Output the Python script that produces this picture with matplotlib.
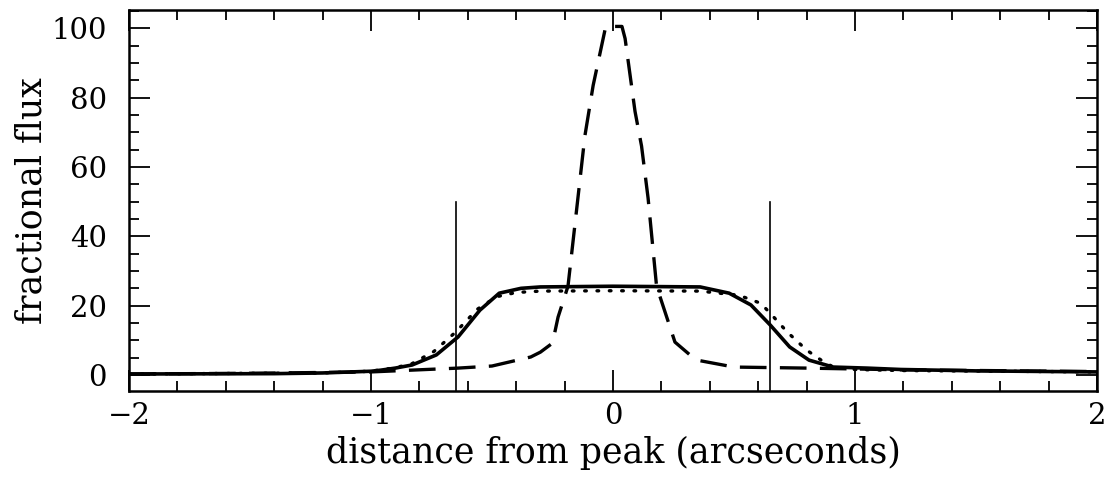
import matplotlib.pyplot as plt
from matplotlib.ticker import MultipleLocator

# solid profile
x_solid = [-2.0, -1.4, -1.2, -1.0, -0.96, -0.9, -0.83, -0.73, -0.64, -0.55, -0.47, -0.38, -0.3,
           0.0, 0.36, 0.48, 0.57, 0.65, 0.73, 0.81, 0.91, 1.05, 1.19, 1.5, 2.0]
y_solid = [0.3, 0.4, 0.6, 1.1, 1.4, 2.0, 2.9, 5.8, 11.0, 18.7, 23.6, 25.0, 25.4,
           25.6, 25.4, 23.6, 20.2, 14.4, 8.1, 4.3, 2.3, 2.0, 1.6, 1.2, 0.9]

# dotted profile
x_dot = [-2.0, -1.2, -1.0, -0.9, -0.83, -0.74, -0.65, -0.56, -0.48, -0.4, -0.3,
         0.0, 0.36, 0.52, 0.61, 0.65, 0.72, 0.8, 0.86, 0.91, 1.0, 1.2, 2.0]
y_dot = [0.3, 0.6, 1.1, 2.1, 3.3, 6.8, 12.4, 19.0, 22.6, 23.8, 24.2,
         24.3, 24.2, 23.0, 20.7, 17.8, 12.4, 7.2, 4.3, 2.3, 1.6, 1.3, 0.9]

# dashed profile
x_dash = [-2.0, -1.5, -1.0, -0.64, -0.5, -0.34, -0.3, -0.25, -0.227, -0.186, -0.145, -0.116, -0.082,
          -0.03, 0.037, 0.05, 0.091, 0.118, 0.145, 0.18, 0.256, 0.318, 0.347, 0.5, 0.8, 1.2, 2.0]
y_dash = [0.3, 0.5, 0.9, 2.0, 2.6, 5.2, 6.6, 9.2, 16.7, 25.6, 51.0, 69.0, 83.5,
          100.5, 100.5, 97.0, 76.0, 66.0, 51.0, 25.6, 9.5, 5.8, 4.3, 2.3, 2.0, 1.5, 1.0]

# vertical markers
x_marks = [-0.65, 0.65]
mark_top = 50

plt.rcParams['font.family'] = 'DejaVu Serif'
plt.rcParams['font.size'] = 21

fig = plt.figure(figsize=(11.1, 4.82), dpi=100)
ax = fig.add_axes([0.1162, 0.1888, 0.8721, 0.7902])

ax.plot(x_solid, y_solid, color='black', lw=2.6, solid_capstyle='round')
ax.plot(x_dot, y_dot, color='black', lw=2.4, linestyle=(0, (0.5, 3.2)), dash_capstyle='round')
ax.plot(x_dash, y_dash, color='black', lw=2.4, linestyle=(0, (8, 4)))

for xm in x_marks:
    ax.plot([xm, xm], [-5, mark_top], color='black', lw=1.2)

ax.set_xlim(-2, 2)
ax.set_ylim(-4.6, 105.2)
ax.xaxis.set_major_locator(MultipleLocator(1))
ax.xaxis.set_minor_locator(MultipleLocator(0.2))
ax.yaxis.set_major_locator(MultipleLocator(20))
ax.yaxis.set_minor_locator(MultipleLocator(5))
ax.tick_params(which='both', direction='in', top=True, right=True, width=1.3, colors='black')
ax.tick_params(which='major', length=15)
ax.tick_params(which='minor', length=7)
ax.tick_params(axis='x', which='major', pad=8)
ax.tick_params(axis='y', which='major', pad=16)
for s in ax.spines.values():
    s.set_linewidth(1.8)

ax.set_xlabel('distance from peak (arcseconds)', fontsize=25, labelpad=4)
ax.set_ylabel('fractional flux', fontsize=25, labelpad=2)

fig.savefig('out.png', dpi=100)
